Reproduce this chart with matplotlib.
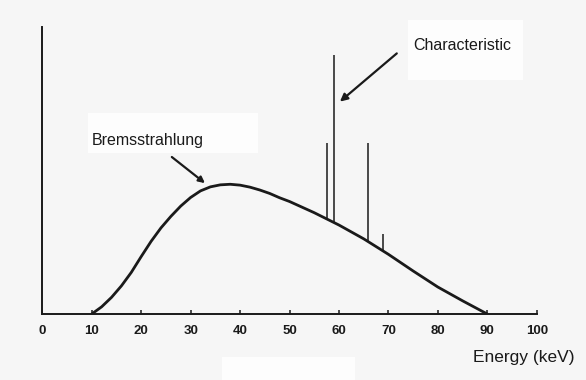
import matplotlib.pyplot as plt
import matplotlib.patches as mpatches

# continuum (Bremsstrahlung), relative intensity 0-100
energy = [10, 12, 14, 16, 18, 20, 22, 24, 26, 28, 30, 32, 34, 36, 38, 40,
          42, 44, 46, 48, 50, 55, 60, 65, 70, 75, 80, 85, 90]
intensity = [0, 2.5, 5.8, 9.8, 14.5, 20, 25.3, 30, 34, 37.6, 40.6, 42.9, 44.3,
             45, 45.2, 44.9, 44.2, 43.2, 42, 40.5, 39.2, 35.3, 31, 26.2,
             20.8, 15, 9.4, 4.6, 0]

# characteristic lines
line_energy = [57.5, 59.1, 65.9, 69.0]
line_base = [33.3, 32.2, 25.2, 21.7]
line_top = [59.6, 90.2, 59.6, 27.8]

x_ticks = [0, 10, 20, 30, 40, 50, 60, 70, 80, 90, 100]

INK = '#1a1a1a'
plt.rcParams['font.family'] = ['Liberation Sans', 'DejaVu Sans']

fig = plt.figure(figsize=(5.86, 3.8), dpi=100, facecolor='#f6f6f6')

# white paper patches from the scan (kept behind the axes)
for (x0, y0, w, h) in [(88, 113, 170, 40), (408, 20, 115, 60), (222, 357, 133, 23)]:
    fig.patches.append(mpatches.Rectangle(
        (x0 / 586, 1 - (y0 + h) / 380), w / 586, h / 380,
        transform=fig.transFigure, facecolor='#fdfdfd', edgecolor='none',
        zorder=-5))

ax = fig.add_axes([42.3 / 586, 66 / 380, 494.4 / 586, 287 / 380])
ax.set_facecolor('none')
ax.set_zorder(2)

ax.plot(energy, intensity, color=INK, lw=2.0, solid_capstyle='round')
ax.vlines(line_energy, line_base, line_top, color=INK, lw=1.1)

ax.set_xlim(0, 100)
ax.set_ylim(0, 100)

for side in ['top', 'right']:
    ax.spines[side].set_visible(False)
for side in ['left', 'bottom']:
    ax.spines[side].set_color(INK)
    ax.spines[side].set_linewidth(1.4)

ax.set_yticks([])
ax.set_xticks(x_ticks)
ax.set_xticklabels([str(t) for t in x_ticks], fontsize=9.5, fontweight='bold',
                   color=INK)
ax.tick_params(axis='x', direction='in', length=3, width=1.1, color=INK, pad=8)

# labels and their arrows
ax.text(21.3, 60.3, 'Bremsstrahlung', ha='center', va='center',
        fontsize=11.5, color=INK)
ax.annotate('', xy=(32.9, 45.6), xytext=(26.2, 54.7),
            arrowprops=dict(arrowstyle='-|>', lw=1.6, color=INK,
                            mutation_scale=9, shrinkA=0, shrinkB=0))
ax.text(85.0, 93.7, 'Characteristic', ha='center', va='center',
        fontsize=11.5, color=INK)
ax.annotate('', xy=(60.2, 74.0), xytext=(71.7, 90.8),
            arrowprops=dict(arrowstyle='-|>', lw=1.6, color=INK,
                            mutation_scale=11, shrinkA=0, shrinkB=0))

fig.text(0.981, 0.058, 'Energy (keV)', ha='right', va='center',
         fontsize=12.5, color=INK)

fig.savefig('out.png', dpi=100, facecolor=fig.get_facecolor())
